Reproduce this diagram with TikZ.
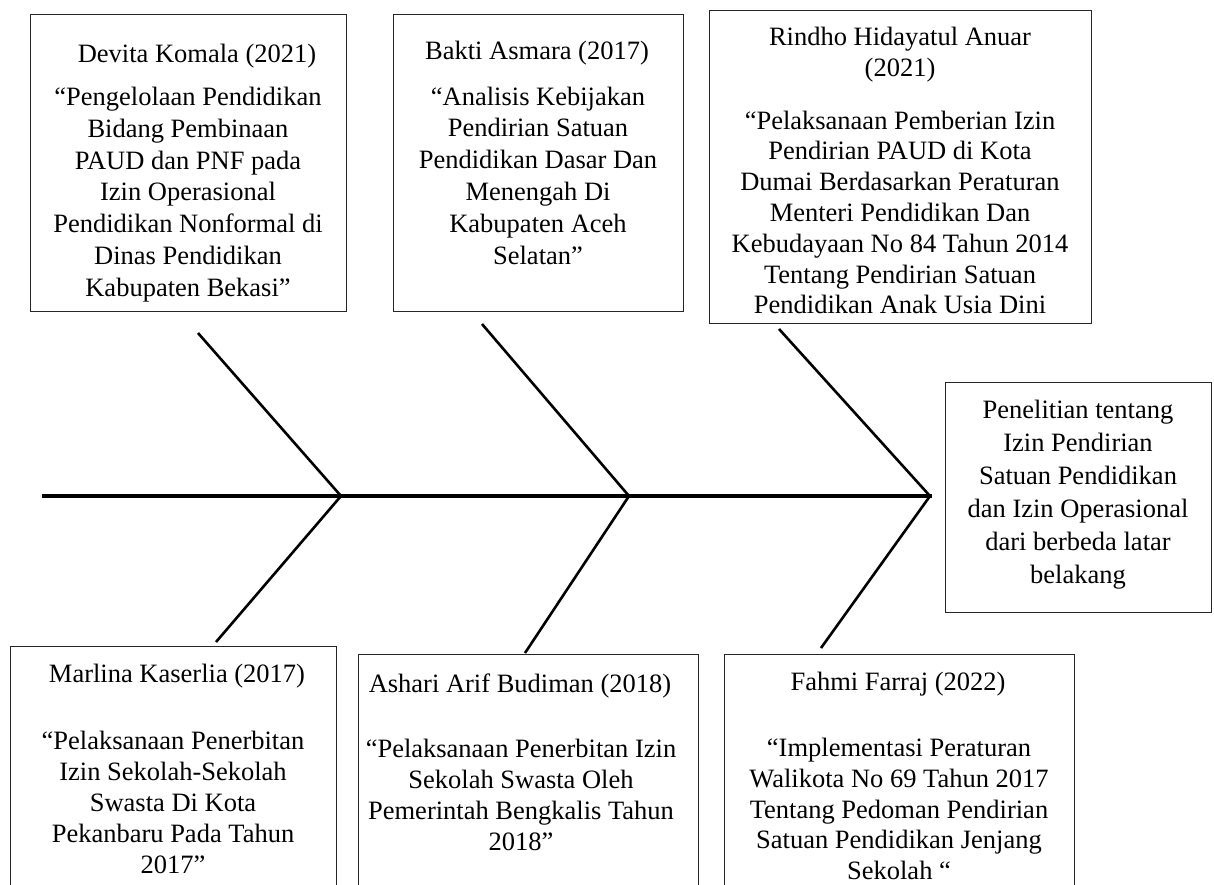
\documentclass[tikz,border=0pt]{standalone}
\usepackage{fontspec}
\setmainfont{Liberation Serif}
\begin{document}
\begin{tikzpicture}[x=1pt,y=-1pt,
  box/.style={draw=black!85, line width=1pt, rectangle, inner sep=0pt},
  txt/.style={font=\fontsize{26.5}{31.8}\selectfont, align=center, inner sep=0pt},
  txtb/.style={font=\fontsize{26.5}{30.8}\selectfont, align=center, inner sep=0pt},
  txtr/.style={font=\fontsize{26.5}{33}\selectfont, align=center, inner sep=0pt},
  bone/.style={line width=2.6pt, black},
  spine/.style={line width=3.6pt, black}]
\useasboundingbox (0,0) rectangle (1214,884);
\fill[white] (0,0) rectangle (1214,884);
% boxes
\node[box, minimum width=316pt, minimum height=297pt] (b1) at (188,162.5) {};
\node[box, minimum width=290pt, minimum height=297pt] (b2) at (538,162.5) {};
\node[box, minimum width=382pt, minimum height=313pt] (b3) at (900,166.5) {};
\node[box, minimum width=266pt, minimum height=230pt] (bR) at (1078,497) {};
\node[box, minimum width=326pt, minimum height=254pt] (b4) at (173,773) {};
\node[box, minimum width=340pt, minimum height=246pt] (b5) at (528,777) {};
\node[box, minimum width=350pt, minimum height=246pt] (b6) at (899,777) {};
% texts
\node[txt] (t1) at (197,56) {Devita Komala (2021)};
\node[txt] (d1) at (188,194.5) {“Pengelolaan Pendidikan\\Bidang Pembinaan\\PAUD dan PNF pada\\Izin Operasional\\Pendidikan Nonformal di\\Dinas Pendidikan\\Kabupaten Bekasi”};
\node[txt] (t2) at (537,53) {Bakti Asmara (2017)};
\node[txt] (d2) at (538,175.5) {“Analisis Kebijakan\\Pendirian Satuan\\Pendidikan Dasar Dan\\Menengah Di\\Kabupaten Aceh\\Selatan”};
\node[txtb] (t3) at (900,55) {Rindho Hidayatul Anuar\\(2021)};
\node[txtb] (d3) at (900,212.5) {“Pelaksanaan Pemberian Izin\\Pendirian PAUD di Kota\\Dumai Berdasarkan Peraturan\\Menteri Pendidikan Dan\\Kebudayaan No 84 Tahun 2014\\Tentang Pendirian Satuan\\Pendidikan Anak Usia Dini};
\node[txtr] (dR) at (1078,494.5) {Penelitian tentang\\Izin Pendirian\\Satuan Pendidikan\\dan Izin Operasional\\dari berbeda latar\\belakang};
\node[txt] (t4) at (177,676) {Marlina Kaserlia (2017)};
\node[txtb] (d4) at (173,802.5) {“Pelaksanaan Penerbitan\\Izin Sekolah-Sekolah\\Swasta Di Kota\\Pekanbaru Pada Tahun\\2017”};
\node[txt] (t5) at (520,686) {Ashari Arif Budiman (2018)};
\node[txtb] (d5) at (521,795) {“Pelaksanaan Penerbitan Izin\\Sekolah Swasta Oleh\\Pemerintah Bengkalis Tahun\\2018”};
\node[txt] (t6) at (898,684) {Fahmi Farraj (2022)};
\node[txtb] (d6) at (899,809) {“Implementasi Peraturan\\Walikota No 69 Tahun 2017\\Tentang Pedoman Pendirian\\Satuan Pendidikan Jenjang\\Sekolah “};
% fishbone
\coordinate (tail) at (42,496);
\coordinate (head) at (932,496);
\coordinate (j1) at (341,496);
\coordinate (j2) at (629,496);
\coordinate (j3) at (930,496);
\coordinate (u1) at (198,333);
\coordinate (u2) at (482,324);
\coordinate (u3) at (779,329);
\coordinate (l1) at (216,642);
\coordinate (l2) at (525,653);
\coordinate (l3) at (821,648);
\draw[spine] (tail) -- (head);
\draw[bone] (u1) -- (j1);
\draw[bone] (u2) -- (j2);
\draw[bone] (u3) -- (j3);
\draw[bone] (j1) -- (l1);
\draw[bone] (j2) -- (l2);
\draw[bone] (j3) -- (l3);
\end{tikzpicture}
\end{document}
